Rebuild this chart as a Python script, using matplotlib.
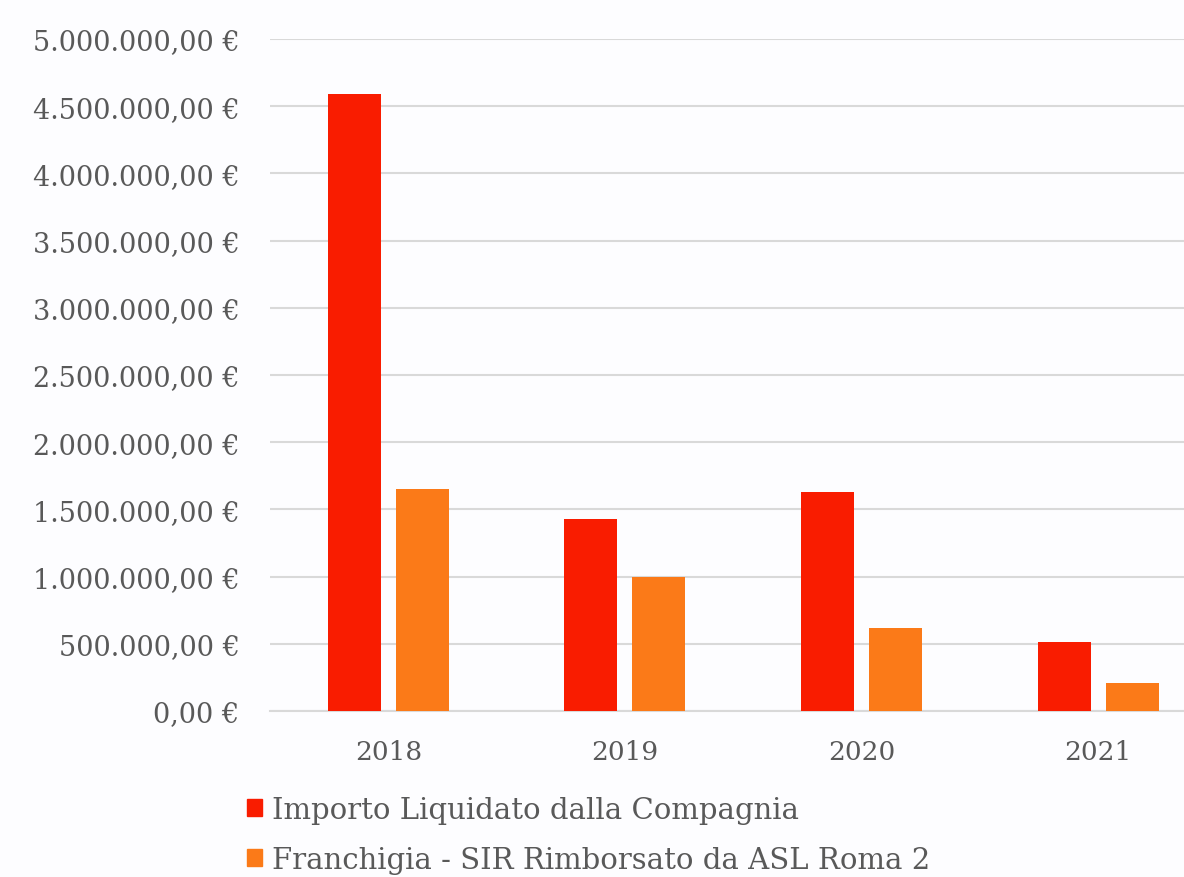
import matplotlib.pyplot as plt
import numpy as np
from matplotlib.ticker import FuncFormatter
from matplotlib.patches import Patch

plt.rcParams['font.family'] = ['DejaVu Serif']

# dati
anni = ['2018', '2019', '2020', '2021']
importo_liquidato = [4590000, 1430000, 1630000, 513000]
franchigia_sir = [1652000, 997000, 618000, 208000]
serie_labels = ['Importo Liquidato dalla Compagnia',
                'Franchigia - SIR Rimborsato da ASL Roma 2']

col_rosso = '#F91C00'
col_arancio = '#FB7A18'
col_testo = '#595959'
col_griglia = '#D9D9D9'

fig = plt.figure(figsize=(11.84, 8.78), dpi=100, facecolor='#FDFDFF')
ax = fig.add_axes([0.228, 0.1891, 0.7994, 0.7654])
ax.set_facecolor('#FDFDFF')

x = np.arange(len(anni))
w = 0.224
off = 0.1437
ax.bar(x - off, importo_liquidato, w, color=col_rosso, zorder=3)
ax.bar(x + off, franchigia_sir, w, color=col_arancio, zorder=3)

ax.set_xlim(-0.5, 3.5)
ax.set_ylim(0, 5000000)
ax.set_yticks(np.arange(0, 5000001, 500000))
ax.set_xticks(x)
ax.set_xticklabels(anni)


def fmt_euro(v, pos):
    s = f'{v:,.2f}'.replace(',', 'X').replace('.', ',').replace('X', '.')
    return s + ' €'


ax.yaxis.set_major_formatter(FuncFormatter(fmt_euro))
ax.grid(axis='y', color=col_griglia, linewidth=1.5, zorder=0)
for s in ['top', 'right', 'left']:
    ax.spines[s].set_visible(False)
ax.spines['bottom'].set_color(col_griglia)
ax.spines['bottom'].set_linewidth(1.5)
ax.tick_params(axis='y', length=0, labelsize=19.5, colors=col_testo, pad=22)
ax.tick_params(axis='x', length=0, labelsize=19, colors=col_testo, pad=20)

handles = [Patch(color=col_rosso), Patch(color=col_arancio)]
fig.legend(handles, serie_labels, loc='upper left',
           bbox_to_anchor=(247 / 1184, 1 - 797 / 878), frameon=False,
           fontsize=21, labelcolor=col_testo, handlelength=0.5,
           handleheight=0.5, handletextpad=0.35, labelspacing=0.75,
           borderaxespad=0, borderpad=0)

fig.savefig('out.png', dpi=100, facecolor=fig.get_facecolor())
